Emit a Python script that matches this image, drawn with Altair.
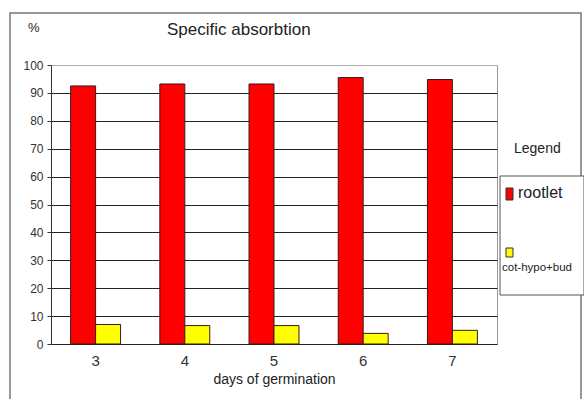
import altair as alt
import pandas as pd

days = ["3", "4", "5", "6", "7"]
rootlet = [92.5, 93.2, 93.2, 95.5, 94.8]
cot_hypo_bud = [7.0, 6.6, 6.6, 3.8, 4.9]
series_names = ["rootlet", "cot-hypo+bud"]
series_colors = ["#ff0000", "#ffff00"]

rows = []
for d, r, c in zip(days, rootlet, cot_hypo_bud):
    rows.append({"day": d, "series": series_names[0], "value": r})
    rows.append({"day": d, "series": series_names[1], "value": c})
df = pd.DataFrame(rows)

FONT = "Liberation Sans"

bars = alt.Chart(df).mark_bar(stroke="#3a1a1a", strokeWidth=1).encode(
    x=alt.X(
        "day:N",
        sort=days,
        scale=alt.Scale(paddingInner=0.44, paddingOuter=0.22),
        axis=alt.Axis(
            title="days of germination",
            labelAngle=0,
            labelFontSize=15,
            labelColor="#333",
            labelPadding=9,
            ticks=False,
            domain=False,
            titleFontSize=14,
            titleFontWeight="normal",
            titleColor="#222",
            titlePadding=4,
        ),
    ),
    xOffset=alt.XOffset("series:N", sort=series_names, scale=alt.Scale(paddingInner=0, paddingOuter=0)),
    y=alt.Y(
        "value:Q",
        scale=alt.Scale(domain=[0, 100], nice=False),
        axis=alt.Axis(
            title=None,
            values=list(range(0, 101, 10)),
            labelFontSize=12,
            labelColor="#333",
            tickSize=4,
            tickColor="#333",
            domainColor="#333",
            labelPadding=4,
            grid=True,
            gridColor=alt.condition("datum.value == 100", alt.value("#b0b0b0"), alt.value("#222")),
            gridOpacity=1,
        ),
    ),
    color=alt.Color("series:N", sort=series_names,
                    scale=alt.Scale(domain=series_names, range=series_colors), legend=None),
)

# outer frame of the chart
frame = alt.Chart(pd.DataFrame({"a": [0]})).mark_rect(
    fill=None, stroke="#777", strokeWidth=1.5, clip=False
).encode(x=alt.value(-41), x2=alt.value(530), y=alt.value(-52), y2=alt.value(345))

title = alt.Chart(pd.DataFrame({"t": ["Specific absorbtion"]})).mark_text(
    font=FONT, fontSize=17, color="#222", align="left", baseline="middle"
).encode(text="t:N", x=alt.value(116), y=alt.value(-35))

pct = alt.Chart(pd.DataFrame({"t": ["%"]})).mark_text(
    font=FONT, fontSize=13, color="#222", align="left", baseline="middle"
).encode(text="t:N", x=alt.value(-23), y=alt.value(-37))

legend_head = alt.Chart(pd.DataFrame({"t": ["Legend"]})).mark_text(
    font=FONT, fontSize=14, color="#222", align="left", baseline="middle"
).encode(text="t:N", x=alt.value(463), y=alt.value(84))

legend_box = alt.Chart(pd.DataFrame({"a": [0]})).mark_rect(
    fill="white", stroke="#555", strokeWidth=1
).encode(x=alt.value(449), x2=alt.value(533), y=alt.value(111), y2=alt.value(230))

legend_df = pd.DataFrame({
    "series": series_names,
    "x0": [455, 455],
    "x1": [462, 462],
    "y0": [123, 183],
    "y1": [135, 192],
})
legend_swatch = alt.Chart(legend_df).mark_rect(stroke="#333", strokeWidth=1).encode(
    x=alt.X("x0:Q", scale=None),
    x2="x1:Q",
    y=alt.Y("y0:Q", scale=None),
    y2="y1:Q",
    color=alt.Color("series:N", scale=alt.Scale(domain=series_names, range=series_colors), legend=None),
)

lab1 = alt.Chart(pd.DataFrame({"t": [series_names[0]]})).mark_text(
    font=FONT, fontSize=16, color="#222", align="left", baseline="middle"
).encode(text="t:N", x=alt.value(467), y=alt.value(128))

lab2 = alt.Chart(pd.DataFrame({"t": [series_names[1]]})).mark_text(
    font=FONT, fontSize=11.5, color="#222", align="left", baseline="middle"
).encode(text="t:N", x=alt.value(451), y=alt.value(203))

chart = alt.layer(
    frame, bars, title, pct, legend_head, legend_box, legend_swatch, lab1, lab2
).properties(
    width=446,
    height=279,
    autosize=alt.AutoSizeParams(type="none"),
    padding={"left": 51, "top": 65, "right": 87, "bottom": 55},
    background="white",
).configure_view(
    stroke="#999"
).configure_axis(
    labelFont=FONT, titleFont=FONT
)

chart.save("out.html", embed_options={"renderer": "svg", "actions": False})
